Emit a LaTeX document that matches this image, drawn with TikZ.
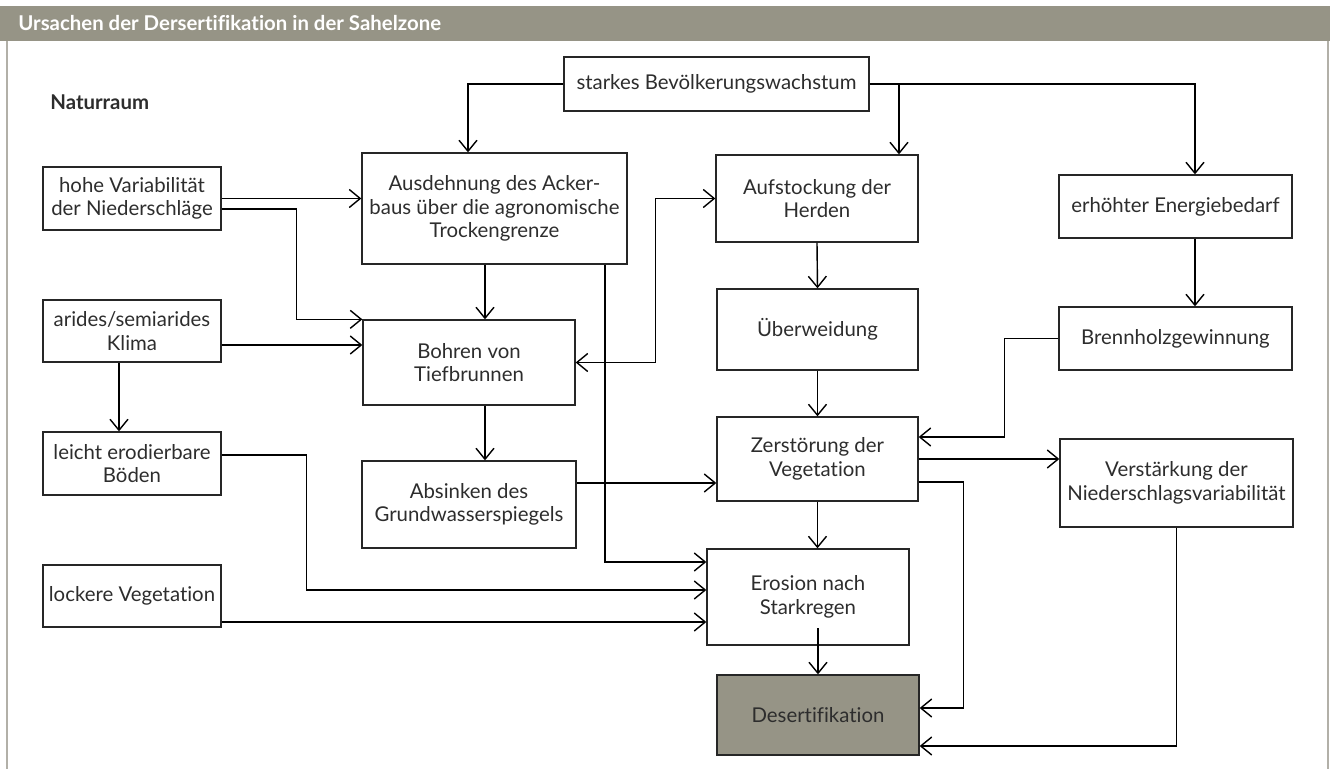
\documentclass[tikz,border=0pt]{standalone}
\usepackage{fontspec}
\setmainfont{Lato}[Ligatures=NoCommon]
\usetikzlibrary{arrows.meta}

\definecolor{headgray}{RGB}{150,148,134}
\definecolor{framegray}{RGB}{178,176,168}
\definecolor{boxtext}{RGB}{45,45,45}
\newcommand{\boxfont}{\fontsize{11.6}{13.3}\selectfont}

\begin{document}
\begin{tikzpicture}[
  >={Straight Barb[length=2.2mm,width=3.6mm]},
  box/.style={
    draw=black!85, line width=0.75pt, align=center,
    text=boxtext, inner sep=0pt, font=\boxfont
  },
  conn/.style={->, line width=0.8pt, black}
]
\useasboundingbox (0,0) rectangle (26.6,-15.38);

% Frame and title bar
\fill[headgray] (0,-0.12) rectangle (26.6,-0.82);
\node[anchor=west, inner sep=0pt, text=white, font=\boxfont\bfseries] (title) at (0.36,-0.47) {Ursachen der Dersertifikation in der Sahelzone};
\draw[framegray, line width=1.2pt] (0.14,-0.82) -- (0.14,-15.38);
\draw[framegray, line width=1.2pt] (26.56,-0.82) -- (26.56,-15.38);

\node[anchor=west, inner sep=0pt, font=\boxfont\bfseries, text=boxtext] (natur) at (1.0,-2.04) {Naturraum};

% Naturraum (left column)
\node[box, minimum width=3.56cm, minimum height=1.26cm] (hohe) at (2.64,-3.97) {hohe Variabilität\\der Niederschläge};
\node[box, minimum width=3.56cm, minimum height=1.24cm] (arides) at (2.64,-6.62) {arides/semiarides\\Klima};
\node[box, minimum width=3.56cm, minimum height=1.26cm] (leicht) at (2.64,-9.27) {leicht erodierbare\\Böden};
\node[box, minimum width=3.56cm, minimum height=1.24cm] (lockere) at (2.64,-11.92) {lockere Vegetation};

% Ackerbau column
\node[box, minimum width=6.10cm, minimum height=1.08cm] (pop) at (14.33,-1.68) {starkes Bevölkerungswachstum};
\node[box, minimum width=5.30cm, minimum height=2.22cm] (acker) at (9.89,-4.17) {Ausdehnung des Acker-\\baus über die agronomische\\Trockengrenze};
\node[box, minimum width=4.24cm, minimum height=1.70cm] (bohren) at (9.38,-7.25) {Bohren von\\Tiefbrunnen};
\node[box, minimum width=4.28cm, minimum height=1.74cm] (absinken) at (9.38,-10.09) {Absinken des\\Grundwasserspiegels};

% Viehwirtschaft column
\node[box, minimum width=4.04cm, minimum height=1.74cm] (herden) at (16.34,-3.97) {Aufstockung der\\Herden};
\node[box, minimum width=4.02cm, minimum height=1.62cm] (ueberw) at (16.35,-6.59) {Überweidung};
\node[box, minimum width=4.02cm, minimum height=1.68cm] (zerst) at (16.35,-9.18) {Zerstörung der\\Vegetation};
\node[box, minimum width=4.04cm, minimum height=1.92cm] (erosion) at (16.16,-11.94) {Erosion nach\\Starkregen};
\node[box, fill=headgray, minimum width=4.04cm, minimum height=1.60cm] (desert) at (16.36,-14.30) {Desertifikation};

% Energie column
\node[box, minimum width=4.66cm, minimum height=1.26cm] (energie) at (23.51,-4.13) {erhöhter Energiebedarf};
\node[box, minimum width=4.66cm, minimum height=1.26cm] (brenn) at (23.51,-6.77) {Brennholzgewinnung};
\node[box, minimum width=4.66cm, minimum height=1.76cm] (verst) at (23.53,-9.66) {Verstärkung der\\Niederschlagsvariabilität};

% Arrows from population growth
\draw[conn] (pop.west) -| ([xshift=-0.53cm]acker.north);
\draw[conn] (pop.east) -| ([xshift=0.39cm]energie.north);
\draw[conn] ([xshift=1.64cm]herden.north |- pop.east) -- ([xshift=1.64cm]herden.north);
\draw[conn] ([xshift=0.39cm]energie.south) -- ([xshift=0.39cm]brenn.north);

% Arrows from the left column
\draw[conn] (hohe.east) -- (hohe.east -| acker.west);
\draw[conn] ([yshift=-0.21cm]hohe.east) -| ([xshift=-1.32cm]bohren.north west) -- (bohren.north west);
\draw[conn] ([yshift=-0.28cm]arides.east) -- ([yshift=-0.28cm]arides.east -| bohren.west);
\draw[conn] ([xshift=-0.26cm]arides.south) -- ([xshift=-0.26cm]leicht.north);
\draw[conn] ([yshift=0.17cm]leicht.east) -- ++(1.70,0) |- ([yshift=0.14cm]erosion.west);
\draw[conn] ([yshift=-0.52cm]lockere.east) -- ([yshift=-0.52cm]lockere.east -| erosion.west);

% Ackerbau and wells
\draw[conn] ([xshift=-0.19cm]acker.south) -- ([xshift=-0.19cm]acker.south |- bohren.north);
\draw[conn] ([xshift=2.21cm]acker.south) |- ([yshift=0.70cm]erosion.west);
\draw[conn, <->] (bohren.east) -- ++(1.60,0) |- (herden.west);
\draw[conn] ([xshift=0.32cm]bohren.south) -- ([xshift=0.32cm]bohren.south |- absinken.north);
\draw[conn] ([yshift=0.43cm]absinken.east) -- ([yshift=0.43cm]absinken.east -| zerst.west);

% Herds and vegetation
\draw[conn] (herden.south) -- (ueberw.north);
\draw[conn] (ueberw.south) -- (zerst.north);
\draw[conn] (zerst.south) -- (zerst.south |- erosion.north);
\draw[conn] ([yshift=0.92cm]desert.north) -- (desert.north);
\draw[conn] (brenn.west) -- ++(-1.08,0) |- ([yshift=0.44cm]zerst.east);
\draw[conn] (zerst.east) -- (zerst.east -| verst.west);
\draw[conn] ([yshift=-0.46cm]zerst.east) -- ++(0.90,0) |- ([yshift=0.14cm]desert.east);
\draw[conn] (verst.south) |- ([yshift=-0.62cm]desert.east);

\end{tikzpicture}
\end{document}
